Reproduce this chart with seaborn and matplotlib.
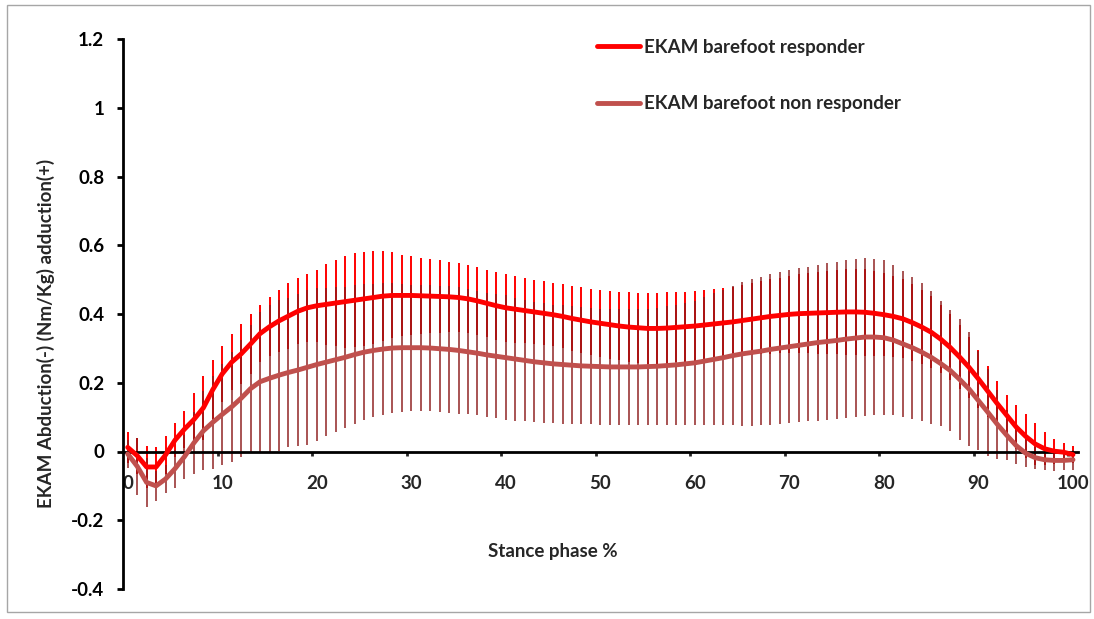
import numpy as np
import pandas as pd
import matplotlib
matplotlib.use("Agg")
import matplotlib.pyplot as plt
import seaborn as sns
from matplotlib.patches import Rectangle

stance = list(range(101))

resp_mean = [0.012, -0.012, -0.045, -0.045, -0.010, 0.033, 0.065, 0.093, 0.127, 0.180,
             0.226, 0.260, 0.284, 0.313, 0.343, 0.363, 0.380, 0.394, 0.408, 0.418,
             0.424, 0.428, 0.432, 0.436, 0.440, 0.444, 0.448, 0.452, 0.454, 0.454,
             0.454, 0.453, 0.452, 0.451, 0.450, 0.448, 0.444, 0.438, 0.431, 0.424,
             0.418, 0.414, 0.410, 0.406, 0.402, 0.398, 0.393, 0.387, 0.382, 0.377,
             0.373, 0.369, 0.365, 0.362, 0.360, 0.358, 0.358, 0.359, 0.361, 0.363,
             0.365, 0.368, 0.371, 0.374, 0.377, 0.381, 0.385, 0.389, 0.393, 0.396,
             0.399, 0.401, 0.402, 0.403, 0.404, 0.405, 0.406, 0.406, 0.405, 0.402,
             0.398, 0.393, 0.386, 0.375, 0.362, 0.347, 0.327, 0.303, 0.275, 0.245,
             0.211, 0.175, 0.139, 0.105, 0.071, 0.044, 0.022, 0.008, 0.001, -0.002,
             -0.009]

resp_sd = [0.044, 0.052, 0.060, 0.057, 0.054, 0.049, 0.054, 0.077, 0.094, 0.085,
           0.082, 0.082, 0.087, 0.087, 0.082, 0.086, 0.090, 0.096, 0.096, 0.099,
           0.104, 0.118, 0.126, 0.134, 0.137, 0.137, 0.135, 0.130, 0.125, 0.119,
           0.114, 0.110, 0.108, 0.105, 0.101, 0.100, 0.099, 0.098, 0.097, 0.099,
           0.099, 0.098, 0.095, 0.094, 0.093, 0.092, 0.093, 0.094, 0.096, 0.096,
           0.097, 0.099, 0.100, 0.101, 0.102, 0.103, 0.104, 0.104, 0.102, 0.102,
           0.102, 0.102, 0.102, 0.102, 0.103, 0.104, 0.105, 0.106, 0.108, 0.110,
           0.112, 0.114, 0.116, 0.118, 0.120, 0.122, 0.124, 0.125, 0.126, 0.124,
           0.120, 0.118, 0.115, 0.112, 0.108, 0.104, 0.100, 0.096, 0.093, 0.088,
           0.085, 0.075, 0.066, 0.058, 0.063, 0.064, 0.060, 0.048, 0.036, 0.026,
           0.024]

nonresp_mean = [-0.007, -0.043, -0.090, -0.100, -0.080, -0.050, -0.015, 0.025, 0.060, 0.085,
                0.108, 0.130, 0.155, 0.183, 0.203, 0.213, 0.222, 0.230, 0.237, 0.245,
                0.253, 0.260, 0.267, 0.274, 0.282, 0.289, 0.294, 0.298, 0.301, 0.302,
                0.302, 0.302, 0.301, 0.299, 0.297, 0.294, 0.290, 0.286, 0.281, 0.277,
                0.273, 0.269, 0.265, 0.261, 0.258, 0.255, 0.253, 0.251, 0.249, 0.248,
                0.247, 0.246, 0.246, 0.246, 0.246, 0.247, 0.248, 0.250, 0.252, 0.255,
                0.258, 0.263, 0.268, 0.273, 0.279, 0.284, 0.288, 0.292, 0.297, 0.301,
                0.305, 0.309, 0.313, 0.317, 0.320, 0.323, 0.327, 0.330, 0.333, 0.333,
                0.331, 0.324, 0.313, 0.302, 0.289, 0.274, 0.256, 0.236, 0.210, 0.182,
                0.148, 0.114, 0.079, 0.047, 0.017, -0.005, -0.018, -0.024, -0.026, -0.026,
                -0.024]

nonresp_sd = [0.040, 0.083, 0.072, 0.043, 0.040, 0.055, 0.064, 0.090, 0.115, 0.135,
              0.148, 0.160, 0.170, 0.186, 0.203, 0.213, 0.220, 0.218, 0.222, 0.225,
              0.223, 0.216, 0.211, 0.206, 0.202, 0.197, 0.194, 0.191, 0.189, 0.186,
              0.183, 0.183, 0.182, 0.183, 0.184, 0.184, 0.182, 0.181, 0.181, 0.180,
              0.181, 0.179, 0.177, 0.175, 0.174, 0.172, 0.173, 0.171, 0.170, 0.169,
              0.169, 0.168, 0.168, 0.168, 0.168, 0.169, 0.170, 0.172, 0.174, 0.177,
              0.180, 0.187, 0.192, 0.197, 0.203, 0.210, 0.214, 0.216, 0.219, 0.221,
              0.223, 0.224, 0.225, 0.227, 0.228, 0.228, 0.230, 0.230, 0.231, 0.228,
              0.226, 0.219, 0.213, 0.207, 0.200, 0.193, 0.182, 0.175, 0.176, 0.165,
              0.145, 0.126, 0.100, 0.073, 0.053, 0.041, 0.032, 0.031, 0.030, 0.029,
              0.029]

series_names = ["EKAM barefoot responder", "EKAM barefoot non responder"]
series_colors = ["#FF0000", "#C0504D"]
x_tick_vals = [0, 10, 20, 30, 40, 50, 60, 70, 80, 90, 100]
y_tick_vals = [-0.4, -0.2, 0, 0.2, 0.4, 0.6, 0.8, 1.0, 1.2]
y_tick_labels = ["-0.4", "-0.2", "0", "0.2", "0.4", "0.6", "0.8", "1", "1.2"]

sns.set_style("white")
plt.rcParams["font.family"] = ["Lato", "DejaVu Sans"]
plt.rcParams["font.weight"] = "bold"

FS = 13.5
W, H = 1094, 619
fig = plt.figure(figsize=(W / 100, H / 100), dpi=100)
ax = fig.add_axes([123 / W, 1 - 589 / H, (1077.7 - 123) / W, 550 / H])

df = pd.DataFrame({
    "x": stance * 2,
    "y": resp_mean + nonresp_mean,
    "series": [series_names[0]] * 101 + [series_names[1]] * 101,
})

# error bars
ax.errorbar(stance, resp_mean, yerr=resp_sd, fmt="none", ecolor="#FF0000",
            elinewidth=1.4, capsize=0, zorder=2)
ax.errorbar(stance, nonresp_mean, yerr=nonresp_sd, fmt="none", ecolor="#8B1A1A",
            elinewidth=1.4, capsize=0, alpha=0.75, zorder=3)

sns.lineplot(data=df, x="x", y="y", hue="series", hue_order=[series_names[1], series_names[0]],
             palette={series_names[0]: series_colors[0], series_names[1]: series_colors[1]},
             linewidth=3.5, ax=ax, legend=False, zorder=5, sort=False, estimator=None)

ax.set_xlim(-0.5, 100.5)
ax.set_ylim(-0.4, 1.2)

for s in ["top", "right"]:
    ax.spines[s].set_visible(False)
ax.spines["left"].set_linewidth(2.0)
ax.spines["bottom"].set_linewidth(2.0)
ax.spines["left"].set_color("black")
ax.spines["bottom"].set_color("black")
ax.spines["bottom"].set_position(("data", 0))
ax.spines["left"].set_zorder(6)
ax.spines["bottom"].set_zorder(4)

ax.set_yticks(y_tick_vals)
ax.set_yticklabels(y_tick_labels)
ax.set_xticks(x_tick_vals)
ax.set_xticklabels([str(v) for v in x_tick_vals])
ax.set_xticks([v + 9.5 for v in x_tick_vals[:-1]], minor=True)
ax.tick_params(axis="y", which="major", direction="out", length=4.5, width=2.0,
               labelsize=FS, pad=9, left=True, colors="black")
ax.tick_params(axis="x", which="major", length=0, labelsize=FS, pad=17, bottom=True)
ax.tick_params(axis="x", which="minor", direction="out", length=3, width=2.0, bottom=True)
for lab in ax.get_xticklabels() + ax.get_yticklabels():
    lab.set_fontweight("bold")

ax.set_xlabel("Stance phase %", fontsize=FS, fontweight="bold")
ax.xaxis.label.set_va("center")
ax.xaxis.set_label_coords((553 - 123) / 954.7, (589 - 551) / 550)
ax.set_ylabel("EKAM Abduction(-) (Nm/Kg) adduction(+)", fontsize=FS, fontweight="bold")
ax.yaxis.label.set_va("center")
ax.yaxis.set_label_coords((46 - 123) / 954.7, (589 - 333) / 550)

handles = [plt.Line2D([], [], color=c, lw=3.5) for c in series_colors]
leg = fig.legend(handles, series_names, loc="upper left",
                 bbox_to_anchor=(597 / W, 1 - 39 / H), bbox_transform=fig.transFigure,
                 frameon=False, fontsize=FS, handlelength=2.3, handletextpad=0.2,
                 labelspacing=2.1, borderpad=0, borderaxespad=0)
for t in leg.get_texts():
    t.set_fontweight("bold")

fig.patches.append(Rectangle((7 / W, 1 - 612 / H), (1090 - 7) / W, (612 - 5) / H,
                             transform=fig.transFigure, fill=False, edgecolor="#A6A6A6",
                             linewidth=1.0, zorder=0))

fig.savefig("out.png", dpi=100)
